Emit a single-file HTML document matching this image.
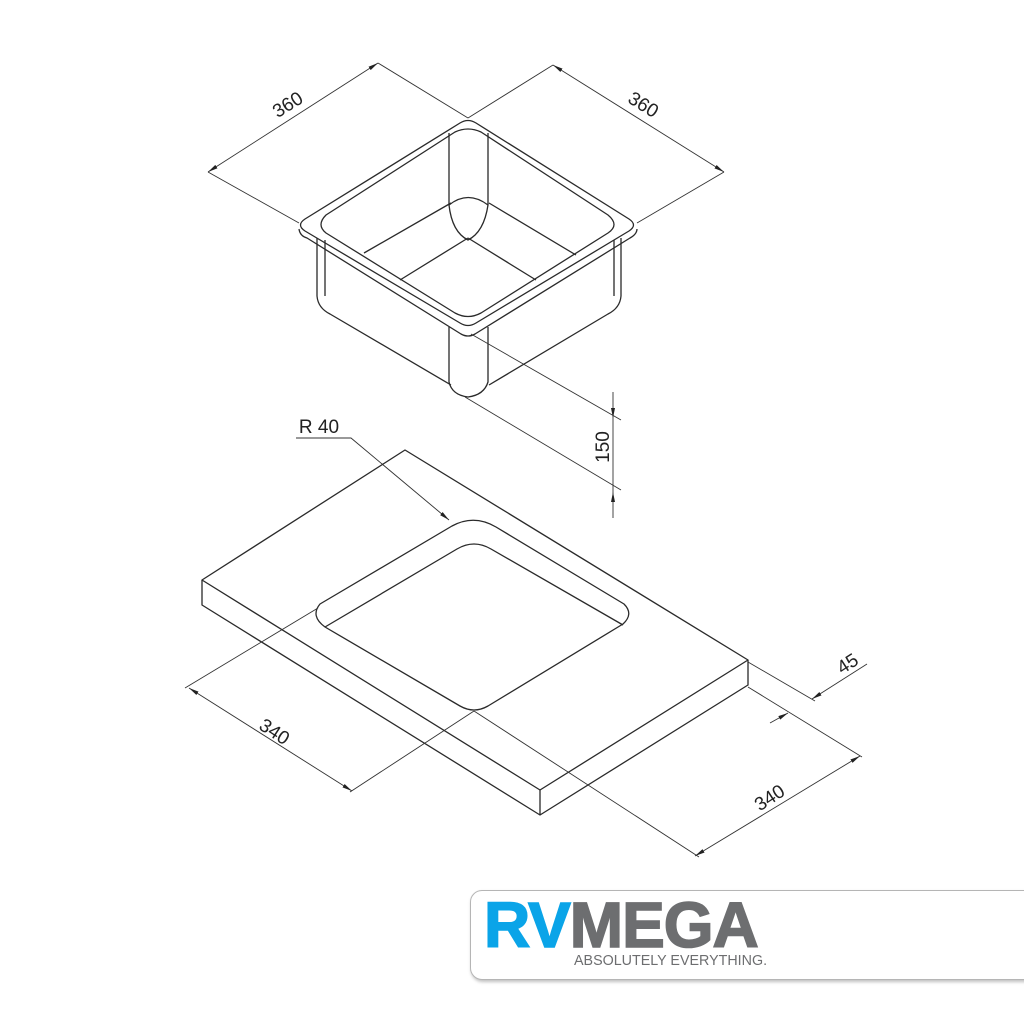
<!DOCTYPE html>
<html><head><meta charset="utf-8"><style>
html,body{margin:0;padding:0;background:#fff;width:1024px;height:1024px;overflow:hidden}
.logo{position:absolute;left:470px;top:890px;width:600px;height:88px;border:1.5px solid #b5b5b5;border-radius:12px;background:#fff;box-shadow:1px 2px 3px rgba(0,0,0,0.25)}
.big{position:absolute;left:13px;top:-1px;font-family:"Liberation Sans",sans-serif;font-weight:bold;font-size:64px;letter-spacing:-1px;line-height:70px;white-space:nowrap;-webkit-text-stroke:1.6px currentColor}
.tag{position:absolute;left:103px;top:62px;font-family:"Liberation Sans",sans-serif;font-size:14.3px;color:#6d6e70;white-space:nowrap}
</style></head><body>
<svg width="1024" height="1024" style="position:absolute;left:0;top:0" xmlns="http://www.w3.org/2000/svg">
<defs>
<marker id="a" viewBox="0 0 10 6" refX="10" refY="3" markerWidth="10" markerHeight="6" markerUnits="userSpaceOnUse" orient="auto-start-reverse">
<path d="M0,1 L10,3 L0,5 Z" fill="#222"/></marker>
</defs>
<g fill="none" stroke="#2a2a2a" stroke-width="1.3" stroke-linejoin="round">
<path d="M460,123 L305,219 Q296,225 305,231 L460,323 Q468,328 476,323 L629,231 Q638,225 629,219 L476,123 Q468,118 460,123 Z"/>
<path d="M299,229 Q300,236 307,238 L461,334 Q468,338 475,334 L630,238 Q637,234 637,229"/>
<path d="M455,132 L326,215 Q316,225 326,233 L455,313 Q468,320 481,313 L608,233 Q620,225 608,215 L481,132 Q468,126 455,132 Z"/>
<path d="M449,133 L449,205 Q452,232 468,240 Q484,232 488,205 L488,133"/>
<path d="M449,205 Q468,190 488,205"/>
<path d="M364,253 L451,203 M400,280 L468,238 M489,203 L576,255 M468,238 L536,280"/>
<path d="M317,238 L317,296 Q318,308 330,314 L451,385"/>
<path d="M325,240 L325,296"/>
<path d="M621,238 L621,296 Q620,308 608,314 L489,385"/>
<path d="M614,240 L614,296"/>
<path d="M449,327 L449,382 Q452,395 468,397 Q484,395 488,382 L488,327"/>
</g>
<g fill="none" stroke="#333" stroke-width="0.9">
<path d="M208,172 L299,223 M378,63 L468,118 M468,118 L553,65 M637,223 L724,172"/>
<path d="M208,172 L378,63" marker-start="url(#a)" marker-end="url(#a)"/>
<path d="M553,65 L724,172" marker-start="url(#a)" marker-end="url(#a)"/>
<path d="M471,334 L621,420 M465,397 L621,490"/>
<path d="M613,392 L613,418" marker-end="url(#a)"/>
<path d="M613,518 L613,492" marker-end="url(#a)"/>
<path d="M613,418 L613,492"/>
<path d="M296,438 L351,438 L449,520" marker-end="url(#a)"/>
</g>
<g fill="none" stroke="#2a2a2a" stroke-width="1.3" stroke-linejoin="round">
<path d="M405,450 L202,580 L540,790 L748,660 Z"/>
<path d="M202,580 L202,605 L540,815 L748,685 L748,660 M540,790 L540,815"/>
<path d="M320,604 L452,526 Q474,514 496,527 L624,604 Q634,614 623,624 L488,706 Q474,714 460,706 L325,627 Q310,616 320,604 Z"/>
<path d="M325,627 L457,549 Q474,539 491,549 L623,625"/>
</g>
<g fill="none" stroke="#333" stroke-width="0.9">
<path d="M318,608 L185,688 M474,711 L350,792"/>
<path d="M189,688 L352,791" marker-start="url(#a)" marker-end="url(#a)"/>
<path d="M748,687 L862,757 M474,711 L699,857"/>
<path d="M695,856 L860,756" marker-start="url(#a)" marker-end="url(#a)"/>
<path d="M748,662 L815,701"/>
<path d="M867,664 L812,699" marker-end="url(#a)"/>
<path d="M770,723 L788,713" marker-end="url(#a)"/>
</g>
<g font-family="Liberation Sans, sans-serif" font-size="19" fill="#222" text-anchor="middle">
<text transform="translate(291,110) rotate(-32)">360</text>
<text transform="translate(640,110) rotate(32)">360</text>
<text transform="translate(609,447) rotate(-90)">150</text>
<text x="319" y="433" text-anchor="middle">R 40</text>
<text transform="translate(271,737) rotate(33)">340</text>
<text transform="translate(773,803) rotate(-33)">340</text>
<text transform="translate(851,669) rotate(-33)">45</text>
</g>
</svg>
<div class="logo">
<div class="big"><span style="color:#0aa4e8">RV</span><span style="color:#6d6e70">MEGA</span></div>
<div class="tag">ABSOLUTELY EVERYTHING.</div>
</div>
</body></html>
